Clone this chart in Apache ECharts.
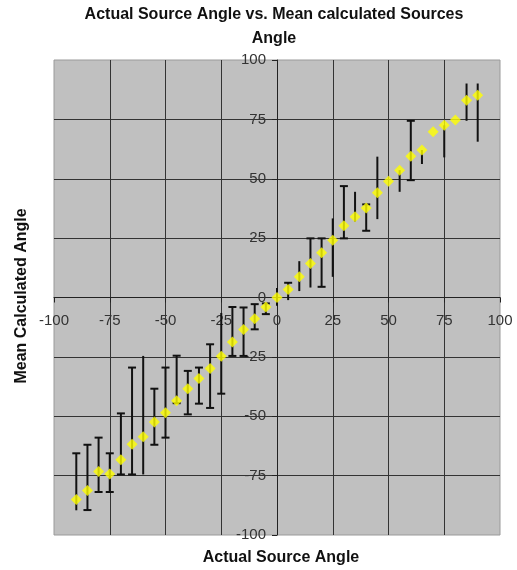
<!DOCTYPE html>
<html>
<head>
<meta charset="utf-8">
<script src="https://cdn.jsdelivr.net/npm/echarts@6/dist/echarts.min.js"></script>
<style>
  html, body { margin: 0; padding: 0; background: #ffffff; }
  #chart { width: 517px; height: 570px; }
</style>
</head>
<body>
<div id="chart"></div>
<script>
// Actual source angle (degrees) for each measurement
const sourceAngles = [-90, -85, -80, -75, -70, -65, -60, -55, -50,
                      -45, -40, -35, -30, -25, -20, -15, -10, -5,
                      0,
                      5, 10, 15, 20, 25, 30, 35, 40, 45,
                      50, 55, 60, 65, 70, 75, 80, 85, 90];

// Mean of the calculated source angle
const meanAngles = [-85.0, -81.3, -73.3, -74.3, -68.3, -61.8, -58.6, -52.4, -48.5,
                    -43.5, -38.4, -34.1, -29.9, -24.7, -18.7, -13.5, -8.9, -4.0,
                    0.0,
                    3.4, 8.7, 14.3, 18.8, 24.1, 30.2, 34.0, 37.7, 44.1,
                    49.0, 53.6, 59.5, 62.1, 69.8, 72.5, 74.7, 83.1, 85.2];

// Highest and lowest calculated angle (error bar ends)
const upperAngles = [-65.6, -62.0, -59.0, -65.6, -48.8, -29.5, -24.6, -38.4, -29.5,
                     -24.5, -30.9, -29.5, -19.7, -6.5, -4.0, -4.2, -2.8, -2.5,
                     4.0,
                     6.2, 15.3, 24.9, 24.9, 33.3, 46.9, 44.5, 39.2, 59.3,
                     49.0, 53.6, 74.4, 62.1, 69.8, 72.5, 74.7, 90.1, 90.1];
const lowerAngles = [-89.6, -89.5, -81.9, -81.9, -74.5, -74.5, -74.5, -62.0, -59.0,
                     -44.5, -49.2, -44.7, -46.5, -40.5, -24.6, -24.6, -13.4, -7.0,
                     -3.5,
                     -1.1, 2.7, 4.2, 4.5, 8.7, 24.9, 32.0, 28.1, 33.0,
                     49.0, 44.5, 49.4, 56.2, 69.8, 59.0, 74.7, 74.4, 65.6];

// Which ends of each error bar carry a cap
const capEnds = ['top', 'both', 'both', 'both', 'both', 'both', 'none', 'both', 'both',
                 'both', 'both', 'both', 'both', 'bottom', 'both', 'both', 'both', 'both',
                 'none',
                 'top', 'none', 'top', 'both', 'none', 'both', 'none', 'both', 'none',
                 'none', 'none', 'both', 'none', 'none', 'none', 'none', 'none', 'none'];

const FONT = '"Liberation Sans", Arial, Helvetica, sans-serif';

// Plot box in pixels; both axes are drawn through the origin of the box
const GRID = { left: 54, right: 17, top: 60, bottom: 35 };
const CHART_W = 517, CHART_H = 570;
const plotW = CHART_W - GRID.left - GRID.right;
const plotH = CHART_H - GRID.top - GRID.bottom;

const meanData = sourceAngles.map((a, i) => [a, meanAngles[i]]);
const rangeData = sourceAngles.map((a, i) => [a, lowerAngles[i], upperAngles[i]]);

const chart = echarts.init(document.getElementById('chart'), null, { renderer: 'canvas' });

function renderErrorBar(params, api) {
  const x = api.value(0);
  const lo = api.value(1);
  const hi = api.value(2);
  const top = api.coord([x, hi]);
  const bot = api.coord([x, lo]);
  const caps = capEnds[params.dataIndex];
  const half = 4;
  const stroke = { stroke: '#111111', lineWidth: 2 };
  const children = [{
    type: 'line',
    shape: { x1: top[0], y1: top[1], x2: bot[0], y2: bot[1] },
    style: stroke
  }];
  if (caps === 'top' || caps === 'both') {
    children.push({ type: 'line',
      shape: { x1: top[0] - half, y1: top[1], x2: top[0] + half, y2: top[1] }, style: stroke });
  }
  if (caps === 'bottom' || caps === 'both') {
    children.push({ type: 'line',
      shape: { x1: bot[0] - half, y1: bot[1], x2: bot[0] + half, y2: bot[1] }, style: stroke });
  }
  return { type: 'group', children: children };
}

const axisCommon = {
  type: 'value',
  min: -100,
  max: 100,
  interval: 25,
  axisLine: { show: true, onZero: false, lineStyle: { color: '#222222', width: 1 } },
  axisTick: { show: true, length: 5, lineStyle: { color: '#222222', width: 1 } },
  splitLine: {
    show: true,
    showMinLine: false,
    showMaxLine: false,
    lineStyle: { color: '#333333', width: 1 }
  }
};

chart.setOption({
  animation: false,
  backgroundColor: '#ffffff',
  grid: Object.assign({}, GRID, {
    show: true,
    backgroundColor: '#c0c0c0',
    borderColor: '#9a9a9a',
    borderWidth: 1
  }),
  xAxis: Object.assign({}, axisCommon, {
    position: 'bottom',
    offset: -plotH / 2,
    axisLabel: { color: '#333333', fontSize: 15, fontFamily: FONT, margin: 16 }
  }),
  yAxis: Object.assign({}, axisCommon, {
    position: 'left',
    offset: -plotW / 2,
    axisLabel: { color: '#333333', fontSize: 15, fontFamily: FONT, margin: 11 }
  }),
  graphic: [
    { type: 'text', x: 274, y: 15,
      style: { text: 'Actual Source Angle vs. Mean calculated Sources', fill: '#111111',
               font: 'bold 16px ' + FONT, textAlign: 'center', textVerticalAlign: 'middle' } },
    { type: 'text', x: 274, y: 39,
      style: { text: 'Angle', fill: '#111111',
               font: 'bold 16px ' + FONT, textAlign: 'center', textVerticalAlign: 'middle' } },
    { type: 'text', x: 281, y: 558,
      style: { text: 'Actual Source Angle', fill: '#111111',
               font: 'bold 16px ' + FONT, textAlign: 'center', textVerticalAlign: 'middle' } },
    { type: 'text', x: 22, y: 296, rotation: Math.PI / 2,
      style: { text: 'Mean Calculated Angle', fill: '#111111',
               font: 'bold 16px ' + FONT, textAlign: 'center', textVerticalAlign: 'middle' } }
  ],
  series: [
    {
      name: 'Range',
      type: 'custom',
      renderItem: renderErrorBar,
      data: rangeData,
      encode: { x: 0, y: [1, 2] },
      z: 2,
      silent: true
    },
    {
      name: 'Mean',
      type: 'scatter',
      data: meanData,
      symbol: 'diamond',
      symbolSize: 11,
      itemStyle: { color: '#ffff00' },
      z: 3
    }
  ]
});
</script>
</body>
</html>
